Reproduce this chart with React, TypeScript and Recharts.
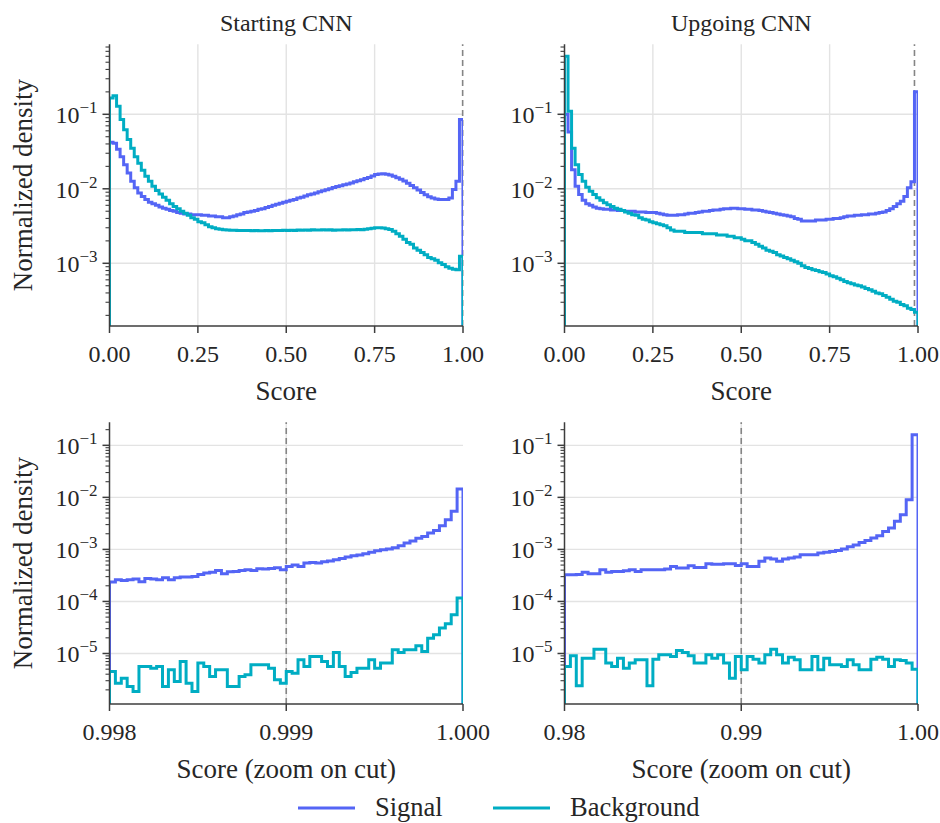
import { LineChart, Line, XAxis, YAxis, ReferenceLine, Legend } from 'recharts'

// Normalized score densities, 100 bins over [0, 1]
const startSignal = [
  0.042, 0.041, 0.034, 0.027, 0.021, 0.0163, 0.0126, 0.0103, 0.0088, 0.0079,
  0.0072, 0.0066, 0.0063, 0.006, 0.0057, 0.0055, 0.0053, 0.0051, 0.005, 0.0048,
  0.0047, 0.0046, 0.0046, 0.0045, 0.0045, 0.0045, 0.0044, 0.0044, 0.0043, 0.0043,
  0.0042, 0.0042, 0.0041, 0.0041, 0.0042, 0.0043, 0.0045, 0.0046, 0.0048, 0.0049,
  0.005, 0.0051, 0.0053, 0.0054, 0.0056, 0.0058, 0.006, 0.0062, 0.0064, 0.0066,
  0.0068, 0.007, 0.0072, 0.0075, 0.0077, 0.008, 0.0083, 0.0085, 0.0088, 0.0091,
  0.0094, 0.0097, 0.01, 0.0104, 0.0107, 0.011, 0.0113, 0.0116, 0.012, 0.0124,
  0.0128, 0.0132, 0.0137, 0.0142, 0.0148, 0.0155, 0.0158, 0.0159, 0.0157, 0.0153,
  0.0147, 0.0141, 0.0134, 0.0127, 0.0119, 0.0111, 0.0103, 0.0096, 0.0089, 0.0083,
  0.0078, 0.0075, 0.0073, 0.0072, 0.0072, 0.0072, 0.0075, 0.0098, 0.0126, 0.085,
]
const startBackground = [
  0.166, 0.178, 0.128, 0.085, 0.062, 0.046, 0.035, 0.027, 0.022, 0.0177,
  0.0147, 0.0126, 0.0108, 0.0095, 0.0085, 0.0077, 0.007, 0.0063, 0.0058, 0.0054,
  0.005, 0.0047, 0.0044, 0.0041, 0.0039, 0.0036, 0.0035, 0.0033, 0.0031, 0.003,
  0.0029, 0.00286, 0.00282, 0.0028, 0.00278, 0.00277, 0.00276, 0.00275, 0.00276, 0.00275,
  0.00274, 0.00275, 0.00274, 0.00274, 0.00275, 0.00274, 0.00275, 0.00276, 0.00275, 0.00277,
  0.00276, 0.00278, 0.00276, 0.00279, 0.00277, 0.0028, 0.00278, 0.00281, 0.00279, 0.0028,
  0.00282, 0.00279, 0.00281, 0.00278, 0.0028, 0.00279, 0.00281, 0.0028, 0.00283, 0.00282,
  0.00284, 0.00283, 0.00287, 0.0029, 0.00295, 0.003, 0.003, 0.00298, 0.00292, 0.00284,
  0.0027, 0.0025, 0.0023, 0.0021, 0.0019, 0.0018, 0.0016, 0.0015, 0.0014, 0.0013,
  0.0012, 0.00115, 0.0011, 0.00102, 0.00096, 0.0009, 0.00086, 0.00083, 0.00082, 0.00124,
]
const upSignal = [
  0.1, 0.058, 0.018, 0.0108, 0.0084, 0.007, 0.0063, 0.006, 0.0057, 0.0055,
  0.0054, 0.0053, 0.0053, 0.0052, 0.0052, 0.0051, 0.0051, 0.005, 0.005, 0.005,
  0.0049, 0.0049, 0.0049, 0.0048, 0.0048, 0.0048, 0.0047, 0.0046, 0.0045, 0.0044,
  0.0044, 0.0044, 0.0045, 0.0045, 0.0046, 0.0047, 0.0047, 0.0048, 0.0049, 0.005,
  0.005, 0.0051, 0.0052, 0.0052, 0.0053, 0.0054, 0.0054, 0.0055, 0.0055, 0.0054,
  0.0054, 0.0053, 0.0053, 0.0052, 0.0052, 0.0051, 0.005, 0.0049, 0.0048, 0.0047,
  0.0046, 0.0045, 0.0044, 0.0043, 0.0042, 0.004, 0.0039, 0.0037, 0.0037, 0.0037,
  0.0037, 0.0038, 0.0038, 0.0038, 0.0039, 0.0039, 0.004, 0.004, 0.0041, 0.0042,
  0.0043, 0.0043, 0.0044, 0.0044, 0.0045, 0.0045, 0.0046, 0.0046, 0.0047, 0.0048,
  0.0049, 0.0051, 0.0054, 0.0058, 0.0063, 0.0068, 0.0079, 0.0103, 0.0124, 0.2,
]
const upBackground = [
  0.6, 0.11, 0.035, 0.021, 0.0155, 0.0126, 0.0105, 0.0093, 0.0084, 0.0076,
  0.007, 0.0065, 0.0061, 0.0058, 0.0055, 0.0053, 0.0051, 0.0049, 0.0047, 0.0045,
  0.0044, 0.0041, 0.0039, 0.0038, 0.0036, 0.0035, 0.0034, 0.0033, 0.0032, 0.003,
  0.0028, 0.0027, 0.0027, 0.0027, 0.0026, 0.0026, 0.0026, 0.0026, 0.0026, 0.0025,
  0.0025, 0.0025, 0.0025, 0.0024, 0.0024, 0.0024, 0.0023, 0.0023, 0.0022, 0.0022,
  0.0021, 0.002, 0.002, 0.0019, 0.0018, 0.0017, 0.0016, 0.0015, 0.00145, 0.0014,
  0.0013, 0.00125, 0.0012, 0.00115, 0.0011, 0.00105, 0.001, 0.00093, 0.00088, 0.00085,
  0.00082, 0.0008, 0.00077, 0.00075, 0.00072, 0.00068, 0.00066, 0.00063, 0.0006, 0.00057,
  0.00055, 0.00053, 0.00051, 0.0005, 0.00048, 0.00046, 0.00044, 0.00042, 0.0004, 0.00039,
  0.00037, 0.00035, 0.00033, 0.00031, 0.0003, 0.00028, 0.00027, 0.00025, 0.00024, 0.00022,
]

// Zoom on the cut region, 60 bins each
const startZoomSignal = [
  2.36e-4, 2.61e-4, 2.54e-4, 2.61e-4, 2.69e-4, 2.39e-4, 2.77e-4, 2.69e-4, 2.61e-4, 2.86e-4,
  2.61e-4, 2.86e-4, 2.94e-4, 2.94e-4, 3.03e-4, 3.31e-4, 3.51e-4, 3.62e-4, 3.95e-4, 3.41e-4,
  3.72e-4, 3.78e-4, 3.95e-4, 4.07e-4, 3.95e-4, 4.25e-4, 4.19e-4, 4.32e-4, 4.45e-4, 4.07e-4,
  4.72e-4, 5.0e-4, 4.72e-4, 5.47e-4, 5.63e-4, 5.47e-4, 5.8e-4, 5.97e-4, 6.34e-4, 6.72e-4,
  7.13e-4, 7.57e-4, 7.79e-4, 8.27e-4, 8.77e-4, 9.44e-4, 9.87e-4, 1.02e-3, 1.08e-3, 1.18e-3,
  1.33e-3, 1.45e-3, 1.63e-3, 1.78e-3, 2.07e-3, 2.32e-3, 2.86e-3, 3.73e-3, 5.39e-3, 0.0145,
]
const startZoomBackground = [
  4.51e-6, 2.69e-6, 3.36e-6, 2.32e-6, 1.86e-6, 5.63e-6, 5.63e-6, 5.23e-6, 5.63e-6, 2.32e-6,
  4.86e-6, 2.9e-6, 7.03e-6, 2.69e-6, 1.86e-6, 6.53e-6, 5.63e-6, 3.61e-6, 4.86e-6, 4.86e-6,
  2.32e-6, 2.32e-6, 3.61e-6, 3.89e-6, 6.06e-6, 6.06e-6, 6.06e-6, 5.23e-6, 3.12e-6, 2.69e-6,
  4.51e-6, 4.19e-6, 7.56e-6, 5.63e-6, 8.77e-6, 8.77e-6, 7.03e-6, 5.63e-6, 1.05e-5, 5.63e-6,
  3.61e-6, 4.3e-6, 5.23e-6, 5.23e-6, 7.56e-6, 5.23e-6, 6.53e-6, 6.53e-6, 1.18e-5, 1.05e-5,
  1.18e-5, 1.18e-5, 1.41e-5, 1.09e-5, 1.97e-5, 2.29e-5, 3.08e-5, 3.73e-5, 5.55e-5, 1.16e-4,
]
const upZoomSignal = [
  3.26e-4, 3.26e-4, 3.3e-4, 3.62e-4, 3.41e-4, 3.41e-4, 4.07e-4, 3.62e-4, 3.78e-4, 3.78e-4,
  3.9e-4, 4.07e-4, 3.78e-4, 4.07e-4, 4.07e-4, 4.07e-4, 4.07e-4, 4.19e-4, 4.72e-4, 4.38e-4,
  4.38e-4, 4.86e-4, 4.51e-4, 4.51e-4, 5.31e-4, 5.16e-4, 5.16e-4, 5.31e-4, 5.31e-4, 4.93e-4,
  5.31e-4, 4.72e-4, 4.72e-4, 5.89e-4, 6.82e-4, 6.53e-4, 5.89e-4, 6.53e-4, 6.82e-4, 7.13e-4,
  7.91e-4, 7.91e-4, 7.91e-4, 8.51e-4, 8.77e-4, 9.16e-4, 9.58e-4, 1.02e-3, 1.13e-3, 1.21e-3,
  1.36e-3, 1.49e-3, 1.65e-3, 1.83e-3, 2.22e-3, 2.58e-3, 3.46e-3, 4.65e-3, 9.03e-3, 0.16,
]
const upZoomBackground = [
  5.63e-6, 9.03e-6, 2.39e-6, 8.14e-6, 8.14e-6, 1.21e-5, 1.21e-5, 6.53e-6, 5.63e-6, 8.14e-6,
  5.23e-6, 6.53e-6, 7.56e-6, 7.56e-6, 2.39e-6, 7.79e-6, 9.44e-6, 9.44e-6, 8.77e-6, 1.14e-5,
  1.05e-5, 9.03e-6, 6.53e-6, 6.53e-6, 9.44e-6, 8.14e-6, 9.44e-6, 6.53e-6, 3.36e-6, 8.77e-6,
  4.86e-6, 8.77e-6, 7.79e-6, 6.53e-6, 9.44e-6, 1.21e-5, 9.44e-6, 6.53e-6, 8.51e-6, 7.56e-6,
  4.86e-6, 4.86e-6, 8.77e-6, 4.86e-6, 8.14e-6, 6.06e-6, 6.06e-6, 5.63e-6, 7.56e-6, 6.06e-6,
  4.86e-6, 4.86e-6, 7.79e-6, 8.51e-6, 7.79e-6, 5.63e-6, 7.56e-6, 7.35e-6, 6.53e-6, 5.0e-6,
]

const fullTicks = [0, 0.25, 0.5, 0.75, 1]
const startZoomTicks = [0.998, 0.999, 1.0]
const upZoomTicks = [0.98, 0.99, 1.0]
const fullDecades = [1e-3, 1e-2, 1e-1]
const zoomDecades = [1e-5, 1e-4, 1e-3, 1e-2, 1e-1]

const FONT = '"Liberation Serif", "DejaVu Serif", serif'
const INK = '#262626'
const SPINE = '#3d3d3d'
const GRID = '#e3e3e3'
const SIGNAL = '#5465f5'
const BACKGROUND = '#00adc3'
const FLOOR = 1e-9

// plot frame shared by all four panels
const PLOT_W = 353.5
const PLOT_H = 281.7
const AXIS_W = 109.5
const PAD_T = 44.3
const AXIS_H = 80
const PAD_R = 32
const CHART_W = AXIS_W + PLOT_W + PAD_R
const CHART_H = PAD_T + PLOT_H + AXIS_H

// step outline: rises from the baseline at lo, falls back to it at hi
function histogramRows(lo: number, hi: number, signal: number[], background: number[]) {
  const n = signal.length
  const w = (hi - lo) / n
  const rows = [{ x: lo, signal: FLOOR, background: FLOOR }]
  for (let i = 0; i < n; i++) rows.push({ x: lo + i * w, signal: signal[i], background: background[i] })
  rows.push({ x: hi, signal: signal[n - 1], background: background[n - 1] })
  rows.push({ x: hi, signal: FLOOR, background: FLOOR })
  return rows
}

function logTicks(lo: number, hi: number) {
  const out: number[] = []
  for (let e = Math.floor(Math.log10(lo)); e <= Math.ceil(Math.log10(hi)); e++) {
    for (let m = 1; m <= 9; m++) {
      const v = m * Math.pow(10, e)
      if (v >= lo && v <= hi) out.push(v)
    }
  }
  return out
}

const XTick = (props: any) => {
  const { x, y, payload, digits } = props
  return (
    <g>
      <line x1={x} x2={x} y1={y} y2={y + 7} stroke={SPINE} strokeWidth={1.5} />
      <text x={x} y={y + 36} textAnchor="middle" fill={INK} fontSize={24} fontFamily={FONT}>
        {Number(payload.value).toFixed(digits)}
      </text>
    </g>
  )
}

const YTick = (props: any) => {
  const { x, y, payload } = props
  const lg = Math.log10(payload.value)
  const exp = Math.round(lg)
  const major = Math.abs(lg - exp) < 1e-6
  if (!major) {
    return <line x1={x} x2={x - 4} y1={y} y2={y} stroke={SPINE} strokeWidth={1.1} />
  }
  return (
    <g>
      <line x1={x} x2={x - 7} y1={y} y2={y} stroke={SPINE} strokeWidth={1.5} />
      <text x={x - 12} y={y + 9} textAnchor="end" fill={INK} fontSize={24} fontFamily={FONT}>
        10
        <tspan dy={-10} fontSize={17}>{'\u2212' + Math.abs(exp)}</tspan>
      </text>
    </g>
  )
}

const LegendContent = () => (
  <svg width={440} height={40}>
    <line x1={8} x2={65} y1={20} y2={20} stroke={SIGNAL} strokeWidth={3} />
    <text x={85} y={28} fill={INK} fontSize={26.5} fontFamily={FONT}>Signal</text>
    <line x1={203} x2={260} y1={20} y2={20} stroke={BACKGROUND} strokeWidth={3} />
    <text x={280} y={28} fill={INK} fontSize={26.5} fontFamily={FONT}>Background</text>
  </svg>
)

type PanelProps = {
  left: number
  top: number
  title?: string
  yLabel?: boolean
  xLabel: string
  xDomain: [number, number]
  xTicks: number[]
  digits: number
  yDomain: [number, number]
  decades: number[]
  cut: number
  signal: number[]
  background: number[]
  legend?: boolean
}

function Panel(p: PanelProps) {
  const data = histogramRows(p.xDomain[0], p.xDomain[1], p.signal, p.background)
  const spine = { stroke: SPINE, strokeWidth: 1.5 }
  const inner = p.xTicks.slice(1, -1)
  return (
    <div style={{ position: 'absolute', left: p.left, top: p.top, width: CHART_W, height: CHART_H }}>
      {p.title && (
        <div
          style={{
            position: 'absolute',
            left: AXIS_W,
            top: 9,
            width: PLOT_W,
            textAlign: 'center',
            fontFamily: FONT,
            fontSize: 24,
            lineHeight: '28px',
            color: INK,
          }}
        >
          {p.title}
        </div>
      )}
      <LineChart width={CHART_W} height={CHART_H} data={data} margin={{ top: PAD_T, right: PAD_R, bottom: 0, left: 0 }}>
        <XAxis
          dataKey="x"
          type="number"
          domain={p.xDomain}
          allowDataOverflow
          ticks={p.xTicks}
          interval={0}
          height={AXIS_H}
          tickSize={0}
          tickMargin={0}
          tickLine={false}
          axisLine={spine}
          tick={<XTick digits={p.digits} />}
          label={{ value: p.xLabel, position: 'insideBottom', offset: 6, fill: INK, fontSize: 27, fontFamily: FONT }}
        />
        <XAxis
          xAxisId="top"
          orientation="top"
          dataKey="x"
          type="number"
          domain={p.xDomain}
          allowDataOverflow
          height={0}
          tick={false}
          tickLine={false}
          axisLine={spine}
        />
        <YAxis
          type="number"
          scale="log"
          domain={p.yDomain}
          allowDataOverflow
          ticks={logTicks(p.yDomain[0], p.yDomain[1])}
          interval={0}
          width={AXIS_W}
          tickSize={0}
          tickMargin={0}
          tickLine={false}
          axisLine={spine}
          tick={<YTick />}
          label={
            p.yLabel
              ? {
                  value: 'Normalized density',
                  angle: -90,
                  position: 'insideLeft',
                  offset: 22,
                  fill: INK,
                  fontSize: 27,
                  fontFamily: FONT,
                  style: { textAnchor: 'middle' },
                }
              : undefined
          }
        />
        <YAxis
          yAxisId="right"
          orientation="right"
          type="number"
          domain={[0, 1]}
          width={0}
          tick={false}
          tickLine={false}
          axisLine={spine}
        />
        {p.decades.map((v) => (
          <ReferenceLine key={'h' + v} y={v} stroke={GRID} strokeWidth={1.4} />
        ))}
        {inner.map((v) => (
          <ReferenceLine key={'v' + v} x={v} stroke={GRID} strokeWidth={1.4} />
        ))}
        <ReferenceLine x={p.cut} stroke="#858585" strokeWidth={1.6} strokeDasharray="6 4" />
        <Line
          dataKey="signal"
          name="Signal"
          type="stepAfter"
          stroke={SIGNAL}
          strokeWidth={3}
          dot={false}
          activeDot={false}
          isAnimationActive={false}
        />
        <Line
          dataKey="background"
          name="Background"
          type="stepAfter"
          stroke={BACKGROUND}
          strokeWidth={3}
          dot={false}
          activeDot={false}
          isAnimationActive={false}
        />
        {p.legend && (
          <Legend
            layout="horizontal"
            verticalAlign="middle"
            align="center"
            content={<LegendContent />}
            wrapperStyle={{ left: 290, top: 409.6, width: 440, height: 40 }}
          />
        )}
      </LineChart>
    </div>
  )
}

export default function App() {
  const right = 564.5 - AXIS_W
  const lowerTop = 422.7 - PAD_T
  return (
    <div style={{ position: 'absolute', left: 0, top: 0, width: 940, height: 823, background: '#fff' }}>
      <Panel
        left={0}
        top={0}
        title="Starting CNN"
        yLabel
        xLabel="Score"
        xDomain={[0, 1]}
        xTicks={fullTicks}
        digits={2}
        yDomain={[1.44e-4, 0.87]}
        decades={fullDecades}
        cut={0.999}
        signal={startSignal}
        background={startBackground}
      />
      <Panel
        left={right}
        top={0}
        title="Upgoing CNN"
        xLabel="Score"
        xDomain={[0, 1]}
        xTicks={fullTicks}
        digits={2}
        yDomain={[1.44e-4, 0.87]}
        decades={fullDecades}
        cut={0.99}
        signal={upSignal}
        background={upBackground}
      />
      <Panel
        left={0}
        top={lowerTop}
        yLabel
        xLabel="Score (zoom on cut)"
        xDomain={[0.998, 1.0]}
        xTicks={startZoomTicks}
        digits={3}
        yDomain={[1.07e-6, 0.277]}
        decades={zoomDecades}
        cut={0.999}
        signal={startZoomSignal}
        background={startZoomBackground}
        legend
      />
      <Panel
        left={right}
        top={lowerTop}
        xLabel="Score (zoom on cut)"
        xDomain={[0.98, 1.0]}
        xTicks={upZoomTicks}
        digits={2}
        yDomain={[1.07e-6, 0.277]}
        decades={zoomDecades}
        cut={0.99}
        signal={upZoomSignal}
        background={upZoomBackground}
      />
    </div>
  )
}
